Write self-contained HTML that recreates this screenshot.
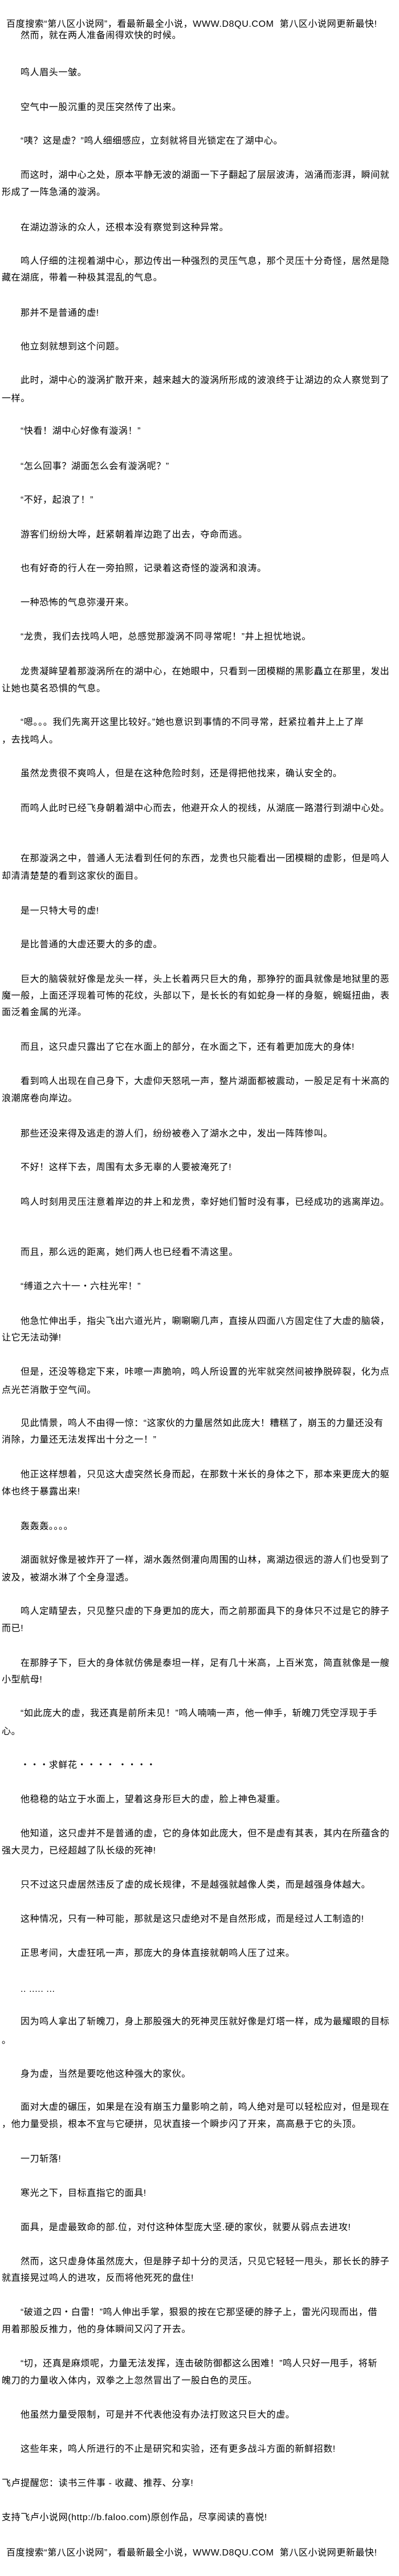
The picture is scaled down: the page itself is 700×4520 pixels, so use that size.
<!DOCTYPE html>
<html><head><meta charset="utf-8">
<style>
html,body{margin:0;padding:0;background:#fff;}
body{width:700px;height:4520px;position:relative;overflow:hidden;
font-family:"Liberation Sans","Noto Sans CJK SC",sans-serif;font-size:16px;color:#000;letter-spacing:0.6px;}
.l{position:absolute;left:3px;white-space:nowrap;line-height:20px;}
.i{left:36px;}
.h{left:11px;}
</style></head><body>
<div class="l h" style="top:33px">百度搜索“第八区小说网”，看最新最全小说，WWW.D8QU.COM &nbsp;第八区小说网更新最快!</div>
<div class="l i" style="top:53px">然而，就在两人准备闹得欢快的时候。</div>
<div class="l i" style="top:118px">鸣人眉头一皱。</div>
<div class="l i" style="top:179px">空气中一股沉重的灵压突然传了出来。</div>
<div class="l i" style="top:238px">“咦？这是虚？”鸣人细细感应，立刻就将目光锁定在了湖中心。</div>
<div class="l i" style="top:298px">而这时，湖中心之处，原本平静无波的湖面一下子翻起了层层波涛，汹涌而澎湃，瞬间就</div>
<div class="l" style="top:328px">形成了一阵急涌的漩涡。</div>
<div class="l i" style="top:390px">在湖边游泳的众人，还根本没有察觉到这种异常。</div>
<div class="l i" style="top:449px">鸣人仔细的注视着湖中心，那边传出一种强烈的灵压气息，那个灵压十分奇怪，居然是隐</div>
<div class="l" style="top:478px">藏在湖底，带着一种极其混乱的气息。</div>
<div class="l i" style="top:540px">那并不是普通的虚!</div>
<div class="l i" style="top:599px">他立刻就想到这个问题。</div>
<div class="l i" style="top:658px">此时，湖中心的漩涡扩散开来，越来越大的漩涡所形成的波浪终于让湖边的众人察觉到了</div>
<div class="l" style="top:690px">一样。</div>
<div class="l i" style="top:747px">“快看！湖中心好像有漩涡！”</div>
<div class="l i" style="top:809px">“怎么回事？湖面怎么会有漩涡呢？”</div>
<div class="l i" style="top:868px">“不好，起浪了！”</div>
<div class="l i" style="top:929px">游客们纷纷大哗，赶紧朝着岸边跑了出去，夺命而逃。</div>
<div class="l i" style="top:988px">也有好奇的行人在一旁拍照，记录着这奇怪的漩涡和浪涛。</div>
<div class="l i" style="top:1048px">一种恐怖的气息弥漫开来。</div>
<div class="l i" style="top:1108px">“龙贵，我们去找鸣人吧，总感觉那漩涡不同寻常呢！”井上担忧地说。</div>
<div class="l i" style="top:1169px">龙贵凝眸望着那漩涡所在的湖中心，在她眼中，只看到一团模糊的黑影矗立在那里，发出</div>
<div class="l" style="top:1199px">让她也莫名恐惧的气息。</div>
<div class="l i" style="top:1258px">“嗯。。。我们先离开这里比较好。”她也意识到事情的不同寻常，赶紧拉着井上上了岸</div>
<div class="l" style="top:1289px">，去找鸣人。</div>
<div class="l i" style="top:1348px">虽然龙贵很不爽鸣人，但是在这种危险时刻，还是得把他找来，确认安全的。</div>
<div class="l i" style="top:1409px">而鸣人此时已经飞身朝着湖中心而去，他避开众人的视线，从湖底一路潜行到湖中心处。</div>
<div class="l i" style="top:1497px">在那漩涡之中，普通人无法看到任何的东西，龙贵也只能看出一团模糊的虚影，但是鸣人</div>
<div class="l" style="top:1528px">却清清楚楚的看到这家伙的面目。</div>
<div class="l i" style="top:1589px">是一只特大号的虚!</div>
<div class="l i" style="top:1648px">是比普通的大虚还要大的多的虚。</div>
<div class="l i" style="top:1709px">巨大的脑袋就好像是龙头一样，头上长着两只巨大的角，那狰狞的面具就像是地狱里的恶</div>
<div class="l" style="top:1738px">魔一般，上面还浮现着可怖的花纹，头部以下，是长长的有如蛇身一样的身躯，蜿蜒扭曲，表</div>
<div class="l" style="top:1767px">面泛着金属的光泽。</div>
<div class="l i" style="top:1828px">而且，这只虚只露出了它在水面上的部分，在水面之下，还有着更加庞大的身体!</div>
<div class="l i" style="top:1888px">看到鸣人出现在自己身下，大虚仰天怒吼一声，整片湖面都被震动，一股足足有十米高的</div>
<div class="l" style="top:1918px">浪潮席卷向岸边。</div>
<div class="l i" style="top:1980px">那些还没来得及逃走的游人们，纷纷被卷入了湖水之中，发出一阵阵惨叫。</div>
<div class="l i" style="top:2039px">不好！这样下去，周围有太多无辜的人要被淹死了!</div>
<div class="l i" style="top:2100px">鸣人时刻用灵压注意着岸边的井上和龙贵，幸好她们暂时没有事，已经成功的逃离岸边。</div>
<div class="l i" style="top:2188px">而且，那么远的距离，她们两人也已经看不清这里。</div>
<div class="l i" style="top:2248px">“缚道之六十一・六柱光牢！”</div>
<div class="l i" style="top:2309px">他急忙伸出手，指尖飞出六道光片，唰唰唰几声，直接从四面八方固定住了大虚的脑袋，</div>
<div class="l" style="top:2338px">让它无法动弹!</div>
<div class="l i" style="top:2398px">但是，还没等稳定下来，咔嚓一声脆响，鸣人所设置的光牢就突然间被挣脱碎裂，化为点</div>
<div class="l" style="top:2430px">点光芒消散于空气间。</div>
<div class="l i" style="top:2488px">见此情景，鸣人不由得一惊：“这家伙的力量居然如此庞大！糟糕了，崩玉的力量还没有</div>
<div class="l" style="top:2517px">消除，力量还无法发挥出十分之一！”</div>
<div class="l i" style="top:2578px">他正这样想着，只见这大虚突然长身而起，在那数十米长的身体之下，那本来更庞大的躯</div>
<div class="l" style="top:2608px">体也终于暴露出来!</div>
<div class="l i" style="top:2669px">轰轰轰。。。。</div>
<div class="l i" style="top:2728px">湖面就好像是被炸开了一样，湖水轰然倒灌向周围的山林，离湖边很远的游人们也受到了</div>
<div class="l" style="top:2759px">波及，被湖水淋了个全身湿透。</div>
<div class="l i" style="top:2818px">鸣人定睛望去，只见整只虚的下身更加的庞大，而之前那面具下的身体只不过是它的脖子</div>
<div class="l" style="top:2848px">而已!</div>
<div class="l i" style="top:2909px">在那脖子下，巨大的身体就仿佛是泰坦一样，足有几十米高，上百米宽，简直就像是一艘</div>
<div class="l" style="top:2938px">小型航母!</div>
<div class="l i" style="top:2997px">“如此庞大的虚，我还真是前所未见！”鸣人喃喃一声，他一伸手，斩魄刀凭空浮现于手</div>
<div class="l" style="top:3029px">心。</div>
<div class="l i" style="top:3088px">・・・求鲜花・・・・ ・・・・</div>
<div class="l i" style="top:3148px">他稳稳的站立于水面上，望着这身形巨大的虚，脸上神色凝重。</div>
<div class="l i" style="top:3208px">他知道，这只虚并不是普通的虚，它的身体如此庞大，但不是虚有其表，其内在所蕴含的</div>
<div class="l" style="top:3238px">强大灵力，已经超越了队长级的死神!</div>
<div class="l i" style="top:3298px">只不过这只虚居然违反了虚的成长规律，不是越强就越像人类，而是越强身体越大。</div>
<div class="l i" style="top:3358px">这种情况，只有一种可能，那就是这只虚绝对不是自然形成，而是经过人工制造的!</div>
<div class="l i" style="top:3418px">正思考间，大虚狂吼一声，那庞大的身体直接就朝鸣人压了过来。</div>
<div class="l i" style="top:3481px">.. ..... ...</div>
<div class="l i" style="top:3538px">因为鸣人拿出了斩魄刀，身上那股强大的死神灵压就好像是灯塔一样，成为最耀眼的目标</div>
<div class="l" style="top:3571px">。</div>
<div class="l i" style="top:3630px">身为虚，当然是要吃他这种强大的家伙。</div>
<div class="l i" style="top:3688px">面对大虚的碾压，如果是在没有崩玉力量影响之前，鸣人绝对是可以轻松应对，但是现在</div>
<div class="l" style="top:3718px">，他力量受损，根本不宜与它硬拼，见状直接一个瞬步闪了开来，高高悬于它的头顶。</div>
<div class="l i" style="top:3779px">一刀斩落!</div>
<div class="l i" style="top:3839px">寒光之下，目标直指它的面具!</div>
<div class="l i" style="top:3899px">面具，是虚最致命的部.位，对付这种体型庞大坚.硬的家伙，就要从弱点去进攻!</div>
<div class="l i" style="top:3959px">然而，这只虚身体虽然庞大，但是脖子却十分的灵活，只见它轻轻一甩头，那长长的脖子</div>
<div class="l" style="top:3988px">就直接晃过鸣人的进攻，反而将他死死的盘住!</div>
<div class="l i" style="top:4048px">“破道之四・白雷！”鸣人伸出手掌，狠狠的按在它那坚硬的脖子上，雷光闪现而出，借</div>
<div class="l" style="top:4078px">用着那股反推力，他的身体瞬间又闪了开去。</div>
<div class="l i" style="top:4138px">“切，还真是麻烦呢，力量无法发挥，连击破防御都这么困难！”鸣人只好一甩手，将斩</div>
<div class="l" style="top:4168px">魄刀的力量收入体内，双拳之上忽然冒出了一股白色的灵压。</div>
<div class="l i" style="top:4228px">他虽然力量受限制，可是并不代表他没有办法打败这只巨大的虚。</div>
<div class="l i" style="top:4288px">这些年来，鸣人所进行的不止是研究和实验，还有更多战斗方面的新鲜招数!</div>
<div class="l" style="top:4348px">飞卢提醒您：读书三件事 - 收藏、推荐、分享!</div>
<div class="l" style="top:4408px">支持飞卢小说网(http://b.faloo.com)原创作品，尽享阅读的喜悦!</div>
<div class="l h" style="top:4470px">百度搜索“第八区小说网”，看最新最全小说，WWW.D8QU.COM &nbsp;第八区小说网更新最快!</div>
</body></html>
